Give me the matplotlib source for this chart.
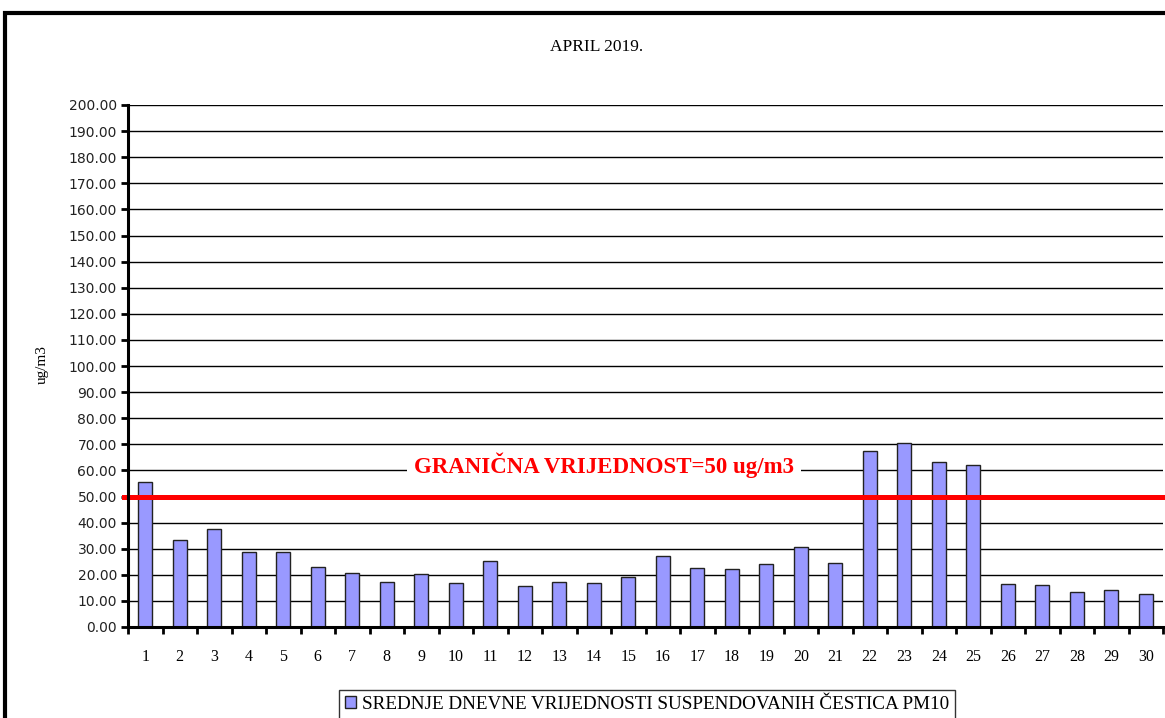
import numpy as np
import matplotlib
matplotlib.use("Agg")
import matplotlib.pyplot as plt
from matplotlib.patches import Rectangle
from matplotlib.ticker import FixedLocator, FormatStrFormatter

# daily mean PM10 values, April 2019
days = list(range(1, 31))
pm10 = [55.6, 33.3, 37.4, 28.6, 28.6, 23.1, 20.6, 17.4, 20.3, 16.9,
        25.3, 15.6, 17.4, 16.7, 19.3, 27.2, 22.6, 22.1, 24.0, 30.5,
        24.4, 67.5, 70.4, 63.3, 62.1, 16.6, 16.2, 13.3, 14.3, 12.5]
limit_value = 50
limit_label = "GRANIČNA VRIJEDNOST=50 ug/m3"
series_label = "SREDNJE DNEVNE VRIJEDNOSTI SUSPENDOVANIH ČESTICA PM10"
subtitle = "APRIL 2019."
y_label = "ug/m3"

serif = ["Liberation Serif", "DejaVu Serif"]

fig = plt.figure(figsize=(11.65, 7.18), dpi=100)
ax = fig.add_axes([128 / 1165, 1 - 627 / 718, 1035 / 1165, 522 / 718])

x = np.arange(len(days))
ax.bar(x, pm10, width=0.41, color="#9999ff", edgecolor="#222222", linewidth=1, zorder=3, label=series_label)

# limit line + label
ax.axhline(limit_value, xmin=-0.004, xmax=1, color="#ff0000", linewidth=3.6, zorder=4, clip_on=False)
ax.text(13.3, 62.0, limit_label, color="#ff0000", fontsize=16.5, fontweight="bold", family=serif,
        ha="center", va="center", zorder=5,
        bbox=dict(facecolor="white", edgecolor="none", boxstyle="square,pad=0.3"))

ax.set_xlim(-0.5, len(days) - 0.5)
ax.set_ylim(0, 200)

# x ticks: marks between categories, labels under bars
ax.xaxis.set_major_locator(FixedLocator(np.arange(-0.5, len(days), 1.0)))
ax.xaxis.set_major_formatter(plt.NullFormatter())
ax.xaxis.set_minor_locator(FixedLocator(x))
ax.set_xticklabels([str(d) for d in days], minor=True)
ax.tick_params(axis="x", which="major", direction="out", length=5, width=2, color="black")
ax.tick_params(axis="x", which="minor", length=0, pad=16, labelsize=11.5)
for lab in ax.get_xticklabels(minor=True):
    lab.set_family(serif)

ax.set_yticks(np.arange(0, 201, 10))
ax.yaxis.set_major_formatter(FormatStrFormatter("%.2f"))
ax.tick_params(axis="y", direction="out", length=5, width=2, labelsize=10, pad=3, color="black")
for lab in ax.get_yticklabels():
    lab.set_family("DejaVu Sans")
    lab.set_color("#222222")

ax.grid(axis="y", color="black", linewidth=1, zorder=0)
ax.set_axisbelow(True)
for side in ["top", "right"]:
    ax.spines[side].set_visible(False)
for side in ["left", "bottom"]:
    ax.spines[side].set_linewidth(2.2)
    ax.spines[side].set_zorder(6)

fig.text(597 / 1165, 1 - 47 / 718, subtitle, ha="center", va="center", fontsize=12.5, family=serif)
fig.text(42 / 1165, 1 - 365 / 718, y_label, ha="center", va="center", rotation=90, fontsize=11, family=serif)

leg = fig.legend(loc="upper center", bbox_to_anchor=(647 / 1165, 1 - 690 / 718),
                 bbox_transform=fig.transFigure, frameon=True, fancybox=False, borderaxespad=0,
                 prop={"family": serif, "size": 13.8}, handlelength=0.6, handleheight=0.6,
                 handletextpad=0.3, borderpad=0.3)
leg.get_frame().set_edgecolor("black")
leg.get_frame().set_linewidth(1)

# outer chart border (right and bottom fall outside the crop)
fig.patches.append(Rectangle((5 / 1165, -0.1), 1.2, 1.1 - 13 / 718, transform=fig.transFigure,
                             fill=False, edgecolor="black", linewidth=3, figure=fig))

fig.savefig("out.png", dpi=100)
